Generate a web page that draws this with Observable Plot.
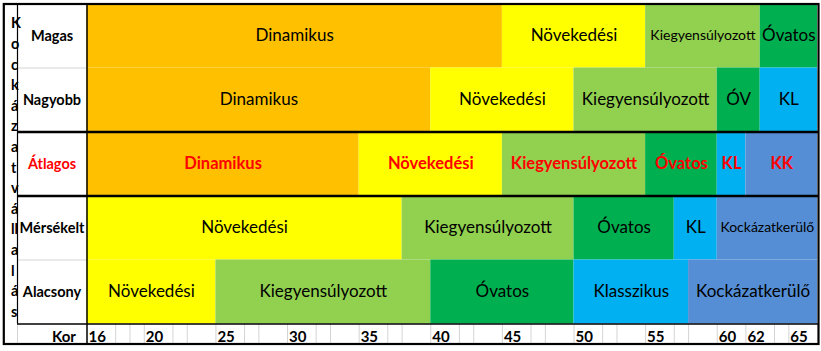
<!DOCTYPE html>
<html>
<head>
<meta charset="utf-8">
<script src="https://cdn.jsdelivr.net/npm/d3@7"></script>
<script src="https://cdn.jsdelivr.net/npm/@observablehq/plot@0.6"></script>
<style>
  html, body { margin: 0; padding: 0; background: #fff; }
  #chart svg { display: block; }
</style>
</head>
<body>
<div id="chart"></div>
<script>
// ---- data ----
const rows = ["Magas", "Nagyobb", "Átlagos", "Mérsékelt", "Alacsony"];
const types = ["Dinamikus", "Növekedési", "Kiegyensúlyozott", "Óvatos", "Klasszikus", "Kockázatkerülő"];
const typeColors = ["#FFC000", "#FFFF00", "#92D050", "#00B050", "#00B0F0", "#558ED5"];

const segRow   = ["Magas","Magas","Magas","Magas",
                  "Nagyobb","Nagyobb","Nagyobb","Nagyobb","Nagyobb",
                  "Átlagos","Átlagos","Átlagos","Átlagos","Átlagos","Átlagos",
                  "Mérsékelt","Mérsékelt","Mérsékelt","Mérsékelt","Mérsékelt",
                  "Alacsony","Alacsony","Alacsony","Alacsony","Alacsony"];
const segStart = [16,45,55,63, 16,40,50,60,63, 16,35,45,55,60,62, 16,38,50,57,60, 16,25,40,50,58];
const segEnd   = [45,55,63,67, 40,50,60,63,67, 35,45,55,60,62,67, 38,50,57,60,67, 25,40,50,58,67];
const segType  = ["Dinamikus","Növekedési","Kiegyensúlyozott","Óvatos",
                  "Dinamikus","Növekedési","Kiegyensúlyozott","Óvatos","Klasszikus",
                  "Dinamikus","Növekedési","Kiegyensúlyozott","Óvatos","Klasszikus","Kockázatkerülő",
                  "Növekedési","Kiegyensúlyozott","Óvatos","Klasszikus","Kockázatkerülő",
                  "Növekedési","Kiegyensúlyozott","Óvatos","Klasszikus","Kockázatkerülő"];
const segLabel = ["Dinamikus","Növekedési","Kiegyensúlyozott","Óvatos",
                  "Dinamikus","Növekedési","Kiegyensúlyozott","ÓV","KL",
                  "Dinamikus","Növekedési","Kiegyensúlyozott","Óvatos","KL","KK",
                  "Növekedési","Kiegyensúlyozott","Óvatos","KL","Kockázatkerülő",
                  "Növekedési","Kiegyensúlyozott","Óvatos","Klasszikus","Kockázatkerülő"];

const tickAges = [16, 20, 25, 30, 35, 40, 45, 50, 55, 60, 62, 65];
const gridAges = [18,19,20,22,23,25,27,28,30,32,33,35,37,38,40,42,43,45,47,48,50,52,53,55,57,58,60,62,64,65];
const axisTitle = "Kor";
const sideLetters = ["K","o","c","k","á","z","a","t","v","á","ll","a","l","á","s"];
const highlightRow = "Átlagos";

// ---- build table ----
const segments = segRow.map((r, i) => ({
  row: r, idx: rows.indexOf(r), start: segStart[i], end: segEnd[i],
  type: segType[i], label: segLabel[i]
}));
// labels that are set in a smaller font in the reference
const smallLabels = new Set(["Magas|Kiegyensúlyozott", "Mérsékelt|Kockázatkerülő"]);
const normalSegs = segments.filter(d => d.row !== highlightRow && !smallLabels.has(d.row + "|" + d.label));
const smallSegs = segments.filter(d => smallLabels.has(d.row + "|" + d.label));
const hiSegs = segments.filter(d => d.row === highlightRow);

const labelColX = -35;   // offset from plot left edge to center of row-label column
const font = "Lato, 'Open Sans', sans-serif";

const chart = Plot.plot({
  width: 821,
  height: 351,
  marginLeft: 86.5,
  marginRight: 4,
  marginTop: 3.5,
  marginBottom: 27.5,
  style: { fontFamily: font, background: "#fff", color: "#000" },
  x: { domain: [16, 67], axis: null },
  y: { domain: [0, rows.length], reverse: true, axis: null },
  color: { domain: types, range: typeColors },
  marks: [
    Plot.rect(segments, { x1: "start", x2: "end", y1: "idx", y2: d => d.idx + 1, fill: "type" }),
    Plot.text(normalSegs, { x: d => (d.start + d.end) / 2, y: d => d.idx + 0.5, text: "label", fontSize: 17, fill: "#000" }),
    Plot.text(smallSegs, { x: d => (d.start + d.end) / 2, y: d => d.idx + 0.5, text: "label", fontSize: 14, fill: "#000" }),
    Plot.text(hiSegs, { x: d => (d.start + d.end) / 2, y: d => d.idx + 0.5, text: "label", fontSize: 16.5, fontWeight: "bold", fill: "#FF0000" }),

    // row labels
    Plot.text(rows.filter(r => r !== highlightRow), { x: () => 16, y: d => rows.indexOf(d) + 0.5, text: d => d, dx: labelColX, fontSize: 14.5, fontWeight: "bold", fill: "#000" }),
    Plot.text([highlightRow], { x: () => 16, y: d => rows.indexOf(d) + 0.5, text: d => d, dx: labelColX, fontSize: 14.5, fontWeight: "bold", fill: "#FF0000" }),

    // vertical side title
    Plot.text([sideLetters.join("\n")], { frameAnchor: "left", lineAnchor: "middle", dx: -76, dy: 2, lineHeight: 1.42, fontSize: 14.5, fontWeight: "bold", fill: "#000" }),

    // Kor row: grid lines, tick labels, title
    Plot.axisX(gridAges, { anchor: "bottom", tickSize: 20, stroke: "#d4d4d4", tickFormat: () => "" }),
    Plot.ruleX([16], { dx: -69.5, stroke: "#d4d4d4", insetTop: 320, insetBottom: -20 }),
    Plot.text(tickAges, { x: d => d, frameAnchor: "bottom", lineAnchor: "middle", dy: 13, textAnchor: "start", dx: 1.5, fontSize: 15, fontWeight: "bold", fill: "#000", text: d => String(d) }),
    Plot.text([axisTitle], { frameAnchor: "bottom-left", lineAnchor: "middle", dx: labelColX, dy: 13, fontSize: 15, fontWeight: "bold", fill: "#000" }),

    // light separators in row-label column
    Plot.ruleY([1, 4], { x1: () => 16, x2: () => 16, insetLeft: -69.5, stroke: "#d4d4d4" }),

    // black borders
    Plot.ruleX([16], { dx: -69.5, stroke: "#000", strokeWidth: 1.2 }),
    Plot.ruleX([16], { stroke: "#000", strokeWidth: 1.5, insetBottom: -20 }),
    Plot.ruleY([2, 3], { stroke: "#000", strokeWidth: 2.5, insetLeft: -69.5, insetRight: -1 }),
    Plot.ruleY([rows.length], { stroke: "#000", strokeWidth: 1.5, insetLeft: -69.5, insetRight: -1 }),
    Plot.frame({ stroke: "#000", strokeWidth: 2.2, insetLeft: -83.2, insetRight: -1, insetBottom: -20 })
  ]
});
document.getElementById("chart").append(chart);
</script>
</body>
</html>
